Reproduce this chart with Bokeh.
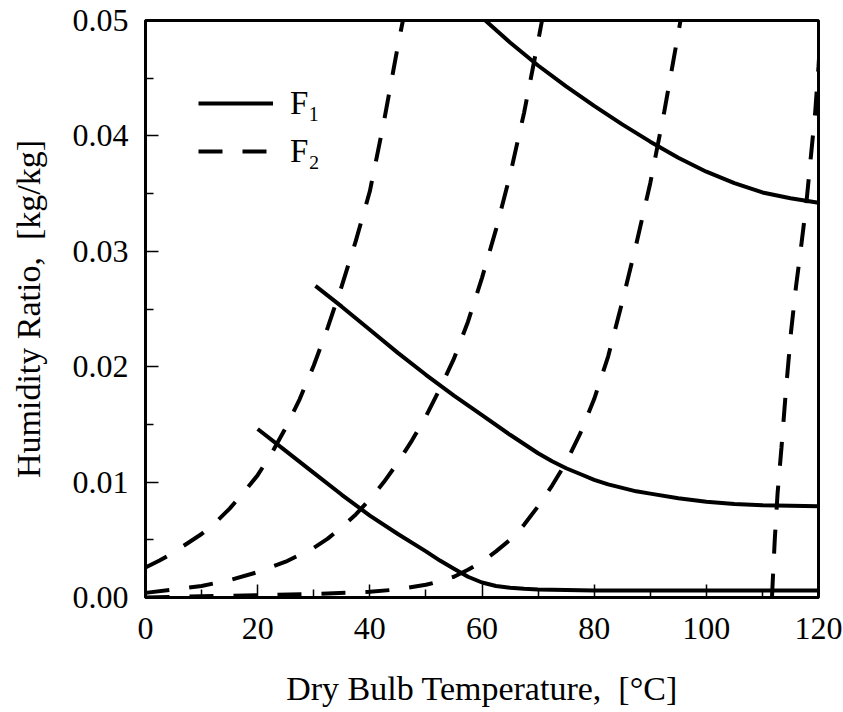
from bokeh.plotting import figure
from bokeh.models import Range1d, FixedTicker, PrintfTickFormatter, Legend, LegendItem
from bokeh.embed import file_html
from bokeh.resources import INLINE

# ---- tick values ----
x_ticks = [0, 20, 40, 60, 80, 100, 120]
x_minor = [10, 30, 50, 70, 90, 110]
y_ticks = [0.00, 0.01, 0.02, 0.03, 0.04, 0.05]
y_minor = [0.005, 0.015, 0.025, 0.035, 0.045]

# ---- F1 curves (solid) : dry bulb temperature [C], humidity ratio [kg/kg] ----
f1_low_t = [20, 25, 30, 35, 40, 45, 50, 52.5, 55, 57.5, 60, 62.5, 65, 67.5, 70,
            80, 90, 100, 110, 120]
f1_low_w = [0.0146, 0.0127, 0.0108, 0.0089, 0.0071, 0.0055, 0.0040, 0.0032, 0.0025,
            0.0018, 0.0013, 0.0010, 0.00085, 0.00075, 0.0007,
            0.0006, 0.0006, 0.0006, 0.0006, 0.0006]

f1_mid_t = [30.3, 35, 40, 45, 50, 55, 60, 65, 67.5, 70, 72.5, 75, 77.5, 80, 82.5, 85,
            87.5, 90, 95, 100, 105, 110, 120]
f1_mid_w = [0.0270, 0.0252, 0.0232, 0.0212, 0.0193, 0.0175, 0.0158, 0.0141, 0.0133,
            0.0125, 0.0118, 0.0112, 0.0107, 0.0102, 0.0098, 0.0095, 0.0092, 0.0090,
            0.0086, 0.0083, 0.0081, 0.0080, 0.0079]

f1_high_t = [60.6, 65, 70, 75, 80, 85, 90, 95, 100, 105, 110, 115, 120]
f1_high_w = [0.0500, 0.0481, 0.0461, 0.0443, 0.0426, 0.0410, 0.0395, 0.0381, 0.0369,
             0.0359, 0.0351, 0.0346, 0.0342]

# ---- F2 curves (dashed) ----
f2_a_t = [0, 2.5, 5, 7.5, 10, 12.5, 15, 17.5, 20, 22.5, 25, 27.5, 30, 32.5, 35, 37.5,
          40, 42.5, 45, 45.9]
f2_a_w = [0.0026, 0.0032, 0.0039, 0.0047, 0.0055, 0.0065, 0.0077, 0.0091, 0.0106,
          0.0125, 0.0147, 0.0172, 0.0201, 0.0234, 0.0270, 0.0309, 0.0352, 0.0412,
          0.0478, 0.0500]

f2_b_t = [0, 5, 10, 15, 20, 25, 30, 32.5, 35, 37.5, 40, 42.5, 45, 47.5, 50, 52.5, 55,
          57.5, 60, 62.5, 65, 67.5, 70, 70.7]
f2_b_w = [0.0004, 0.0007, 0.0010, 0.0015, 0.0022, 0.0031, 0.0043, 0.0051, 0.0061,
          0.0072, 0.0085, 0.0100, 0.0117, 0.0136, 0.0157, 0.0181, 0.0207, 0.0239,
          0.0277, 0.0319, 0.0366, 0.0420, 0.0482, 0.0500]

f2_c_t = [0, 10, 20, 30, 40, 45, 50, 52.5, 55, 57.5, 60, 62.5, 65, 67.5, 70, 72.5, 75,
          77.5, 80, 82.5, 85, 87.5, 90, 92.5, 95.4]
f2_c_w = [0.0000, 0.0001, 0.0002, 0.0003, 0.0005, 0.0007, 0.0011, 0.0014, 0.0018,
          0.0024, 0.0031, 0.0040, 0.0050, 0.0063, 0.0079, 0.0097, 0.0117, 0.0142,
          0.0172, 0.0209, 0.0256, 0.0306, 0.0359, 0.0421, 0.0500]

f2_d_t = [111.7, 111.9, 112.2, 112.7, 113.4, 114.2, 115.1, 116.0, 116.8, 117.8, 118.6,
          119.4, 120.0, 120.5]
f2_d_w = [0.0000, 0.0020, 0.0050, 0.0090, 0.0130, 0.0180, 0.0230, 0.0270, 0.0300,
          0.0340, 0.0380, 0.0420, 0.0460, 0.0500]

x_title = "Dry Bulb Temperature,\u00a0\u00a0[\u00b0C]"
y_title = "Humidity Ratio,\u00a0\u00a0[kg/kg]"
legend_labels = ["F\u2081", "F\u2082"]

FONT = "Liberation Serif"
INK = "#000000"

p = figure(width=843, height=712,
           x_range=Range1d(0, 120), y_range=Range1d(0, 0.05),
           output_backend="svg", toolbar_location=None,
           min_border_left=145, min_border_right=25,
           min_border_top=20, min_border_bottom=115)

p.background_fill_color = "white"
p.border_fill_color = "white"
p.grid.visible = False
p.outline_line_color = INK
p.outline_line_width = 3

solid = dict(line_color=INK, line_width=4)
dashed = dict(line_color=INK, line_width=4, line_dash="24 20")

r_s1 = p.line(f1_low_t, f1_low_w, **solid)
p.line(f1_mid_t, f1_mid_w, **solid)
p.line(f1_high_t, f1_high_w, **solid)

r_d1 = p.line(f2_a_t, f2_a_w, **dashed)
p.line(f2_b_t, f2_b_w, **dashed)
p.line(f2_c_t, f2_c_w, **dashed)
p.line(f2_d_t, f2_d_w, **dashed)

# axes
for ax in (p.xaxis[0], p.yaxis[0]):
    ax.axis_line_color = INK
    ax.axis_line_width = 3
    ax.major_tick_line_color = INK
    ax.minor_tick_line_color = INK
    ax.major_tick_line_width = 1.5
    ax.minor_tick_line_width = 1.5
    ax.major_tick_in = 13
    ax.major_tick_out = 0
    ax.minor_tick_in = 8
    ax.minor_tick_out = 0
    ax.major_label_text_font = FONT
    ax.major_label_text_font_size = "32px"
    ax.major_label_text_color = INK
    ax.axis_label_text_font = FONT
    ax.axis_label_text_font_size = "34px"
    ax.axis_label_text_font_style = "normal"
    ax.axis_label_text_color = INK

p.xaxis.ticker = FixedTicker(ticks=x_ticks, minor_ticks=x_minor)
p.yaxis.ticker = FixedTicker(ticks=y_ticks, minor_ticks=y_minor)
p.yaxis.formatter = PrintfTickFormatter(format="%.2f")
p.xaxis.axis_label = x_title
p.yaxis.axis_label = y_title
p.xaxis.major_label_standoff = 20
p.yaxis.major_label_standoff = 17
p.xaxis.axis_label_standoff = 28
p.yaxis.axis_label_standoff = 23

legend = Legend(items=[LegendItem(label=legend_labels[0], renderers=[r_s1]),
                       LegendItem(label=legend_labels[1], renderers=[r_d1])],
                location=(53, 426))
legend.border_line_color = None
legend.background_fill_alpha = 0
legend.padding = 0
legend.margin = 0
legend.spacing = 8
legend.glyph_width = 75
legend.glyph_height = 40
legend.label_height = 40
legend.label_standoff = 17
legend.label_text_font = FONT
legend.label_text_font_size = "33px"
legend.label_text_color = INK
p.add_layout(legend)

open("out.html", "w").write(file_html(p, INLINE))
